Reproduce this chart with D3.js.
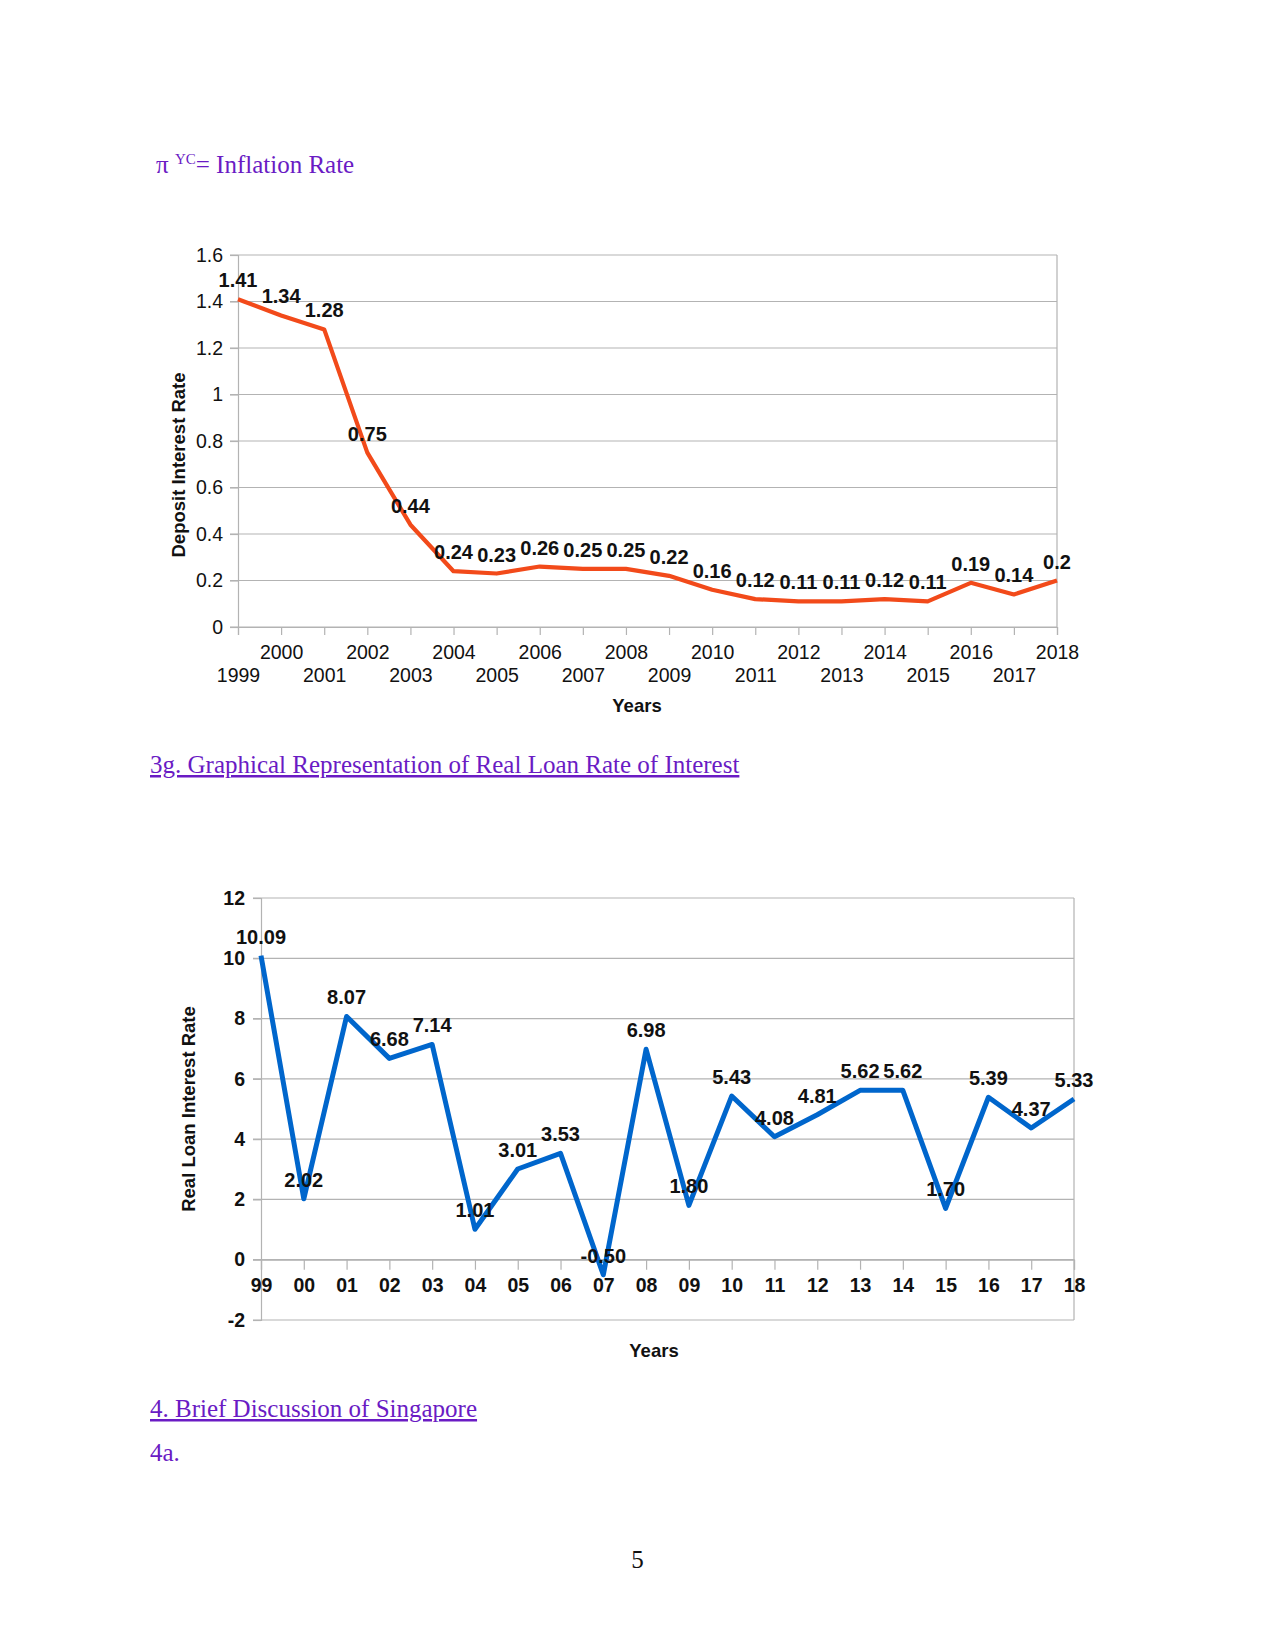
<!DOCTYPE html>
<html>
<head>
<meta charset="utf-8">
<script src="https://cdn.jsdelivr.net/npm/d3@7"></script>
<style>
  html, body { margin: 0; padding: 0; background: #fff; }
  svg { display: block; }
</style>
</head>
<body>
<svg id="page" width="1275" height="1650"></svg>
<script>
// ---------- DATA ----------
const depositYears = [1999, 2000, 2001, 2002, 2003, 2004, 2005, 2006, 2007, 2008,
                      2009, 2010, 2011, 2012, 2013, 2014, 2015, 2016, 2017, 2018];
const depositRate = [1.41, 1.34, 1.28, 0.75, 0.44, 0.24, 0.23, 0.26, 0.25, 0.25,
                     0.22, 0.16, 0.12, 0.11, 0.11, 0.12, 0.11, 0.19, 0.14, 0.2];
const depositYTicks = [0, 0.2, 0.4, 0.6, 0.8, 1, 1.2, 1.4, 1.6];

const loanYearLabels = ["99", "00", "01", "02", "03", "04", "05", "06", "07", "08",
                        "09", "10", "11", "12", "13", "14", "15", "16", "17", "18"];
const realLoanRate = [10.09, 2.02, 8.07, 6.68, 7.14, 1.01, 3.01, 3.53, -0.50, 6.98,
                      1.80, 5.43, 4.08, 4.81, 5.62, 5.62, 1.70, 5.39, 4.37, 5.33];
const loanYTicks = [-2, 0, 2, 4, 6, 8, 10, 12];

// ---------- STYLE ----------
const purple = "#6a1bc4";
const gridColor = "#b3b3b3";
const sans = "'Liberation Sans', Arial, sans-serif";
const serif = "'Liberation Serif', 'Times New Roman', serif";
const tickSize = 19.5, labelSize = 20, titleSize = 18.5, bodySize = 25;

const svg = d3.select("#page");

// ---------- Document text ----------
const t1 = svg.append("text").attr("x", 156).attr("y", 173)
  .attr("font-family", serif).attr("font-size", bodySize).attr("fill", purple);
t1.append("tspan").text("π ");
t1.append("tspan").attr("font-size", 15).attr("dy", -9).text("YC");
t1.append("tspan").attr("dy", 9).text("= Inflation Rate");

svg.append("text").attr("x", 150).attr("y", 773)
  .attr("font-family", serif).attr("font-size", bodySize).attr("fill", purple)
  .attr("text-decoration", "underline")
  .text("3g. Graphical Representation of Real Loan Rate of Interest");

svg.append("text").attr("x", 150).attr("y", 1417)
  .attr("font-family", serif).attr("font-size", bodySize).attr("fill", purple)
  .attr("text-decoration", "underline")
  .text("4. Brief Discussion of Singapore");

svg.append("text").attr("x", 150).attr("y", 1461)
  .attr("font-family", serif).attr("font-size", bodySize).attr("fill", purple)
  .text("4a.");

svg.append("text").attr("x", 637.5).attr("y", 1568).attr("text-anchor", "middle")
  .attr("font-family", serif).attr("font-size", bodySize).attr("fill", "#111")
  .text("5");

// ---------- Chart 1: Deposit Interest Rate ----------
(function () {
  const left = 238, right = 1057, top = 255, bottom = 627;
  const x = d3.scaleLinear().domain([depositYears[0], depositYears[depositYears.length - 1]]).range([left, right]);
  const y = d3.scaleLinear().domain([0, 1.6]).range([bottom, top]);
  const g = svg.append("g");

  g.append("g").selectAll("line").data(depositYTicks).join("line")
    .attr("x1", left - 8).attr("x2", right)
    .attr("y1", d => y(d)).attr("y2", d => y(d))
    .attr("stroke", gridColor).attr("stroke-width", 1.2);
  g.append("line").attr("x1", right).attr("x2", right).attr("y1", top).attr("y2", bottom)
    .attr("stroke", gridColor).attr("stroke-width", 1.2);

  const ya = g.append("g").attr("transform", `translate(${left},0)`)
    .call(d3.axisLeft(y).tickValues(depositYTicks).tickSize(8).tickPadding(7).tickFormat(d => String(d)));
  ya.select(".domain").attr("stroke", gridColor).attr("stroke-width", 1.2);
  ya.selectAll(".tick line").attr("stroke", gridColor).attr("stroke-width", 1.2);
  ya.selectAll("text").attr("font-family", sans).attr("font-size", tickSize).attr("fill", "#111");

  const xa = g.append("g").attr("transform", `translate(0,${bottom})`)
    .call(d3.axisBottom(x).tickValues(depositYears).tickSize(8).tickFormat(d => String(d)));
  xa.select(".domain").attr("stroke", gridColor).attr("stroke-width", 1.2);
  xa.selectAll(".tick line").attr("stroke", gridColor).attr("stroke-width", 1.2);
  xa.selectAll("text").attr("font-family", sans).attr("font-size", tickSize).attr("fill", "#111")
    .attr("dy", null)
    .attr("y", (d, i) => (i % 2 === 1 ? 32 : 55));

  g.append("text").attr("x", 637).attr("y", 712).attr("text-anchor", "middle")
    .attr("font-family", sans).attr("font-weight", "bold").attr("font-size", titleSize).attr("fill", "#111")
    .text("Years");
  g.append("text").attr("transform", "translate(185,465) rotate(-90)").attr("text-anchor", "middle")
    .attr("font-family", sans).attr("font-weight", "bold").attr("font-size", titleSize).attr("fill", "#111")
    .text("Deposit Interest Rate");

  const line = d3.line().x((d, i) => x(depositYears[i])).y(d => y(d));
  g.append("path").datum(depositRate).attr("d", line)
    .attr("fill", "none").attr("stroke", "#f24a1a").attr("stroke-width", 4.2)
    .attr("stroke-linejoin", "round");

  g.append("g").selectAll("text").data(depositRate).join("text")
    .attr("x", (d, i) => x(depositYears[i])).attr("y", d => y(d) - 12)
    .attr("text-anchor", "middle")
    .attr("font-family", sans).attr("font-weight", "bold").attr("font-size", labelSize).attr("fill", "#111")
    .text(d => String(d));
})();

// ---------- Chart 2: Real Loan Interest Rate ----------
(function () {
  const left = 261, right = 1074, top = 898, bottom = 1320;
  const x = d3.scaleLinear().domain([0, loanYearLabels.length - 1]).range([left, right]);
  const y = d3.scaleLinear().domain([-2, 12]).range([bottom, top]);
  const g = svg.append("g");

  g.append("g").selectAll("line").data(loanYTicks).join("line")
    .attr("x1", left - 8).attr("x2", right)
    .attr("y1", d => y(d)).attr("y2", d => y(d))
    .attr("stroke", gridColor).attr("stroke-width", 1.2);
  g.append("line").attr("x1", right).attr("x2", right).attr("y1", top).attr("y2", bottom)
    .attr("stroke", gridColor).attr("stroke-width", 1.2);

  const ya = g.append("g").attr("transform", `translate(${left},0)`)
    .call(d3.axisLeft(y).tickValues(loanYTicks).tickSize(8).tickPadding(8).tickFormat(d => String(d)));
  ya.select(".domain").attr("stroke", gridColor).attr("stroke-width", 1.2);
  ya.selectAll(".tick line").attr("stroke", gridColor).attr("stroke-width", 1.2);
  ya.selectAll("text").attr("font-family", sans).attr("font-weight", "bold").attr("font-size", tickSize).attr("fill", "#111");

  const xa = g.append("g").attr("transform", `translate(0,${y(0)})`)
    .call(d3.axisBottom(x).tickValues(d3.range(loanYearLabels.length)).tickSize(10)
      .tickFormat(i => loanYearLabels[i]));
  xa.select(".domain").attr("stroke", gridColor).attr("stroke-width", 1.2);
  xa.selectAll(".tick line").attr("stroke", gridColor).attr("stroke-width", 1.2);
  xa.selectAll("text").attr("font-family", sans).attr("font-weight", "bold").attr("font-size", tickSize).attr("fill", "#111")
    .attr("dy", null).attr("y", 32);

  g.append("text").attr("x", 654).attr("y", 1357).attr("text-anchor", "middle")
    .attr("font-family", sans).attr("font-weight", "bold").attr("font-size", titleSize).attr("fill", "#111")
    .text("Years");
  g.append("text").attr("transform", "translate(195,1109) rotate(-90)").attr("text-anchor", "middle")
    .attr("font-family", sans).attr("font-weight", "bold").attr("font-size", titleSize).attr("fill", "#111")
    .text("Real Loan Interest Rate");

  const line = d3.line().x((d, i) => x(i)).y(d => y(d));
  g.append("path").datum(realLoanRate).attr("d", line)
    .attr("fill", "none").attr("stroke", "#0066cc").attr("stroke-width", 5)
    .attr("stroke-linejoin", "round");

  g.append("g").selectAll("text").data(realLoanRate).join("text")
    .attr("x", (d, i) => x(i)).attr("y", d => y(d) - 12)
    .attr("text-anchor", "middle")
    .attr("font-family", sans).attr("font-weight", "bold").attr("font-size", labelSize).attr("fill", "#111")
    .text(d => d.toFixed(2));
})();
</script>
</body>
</html>
